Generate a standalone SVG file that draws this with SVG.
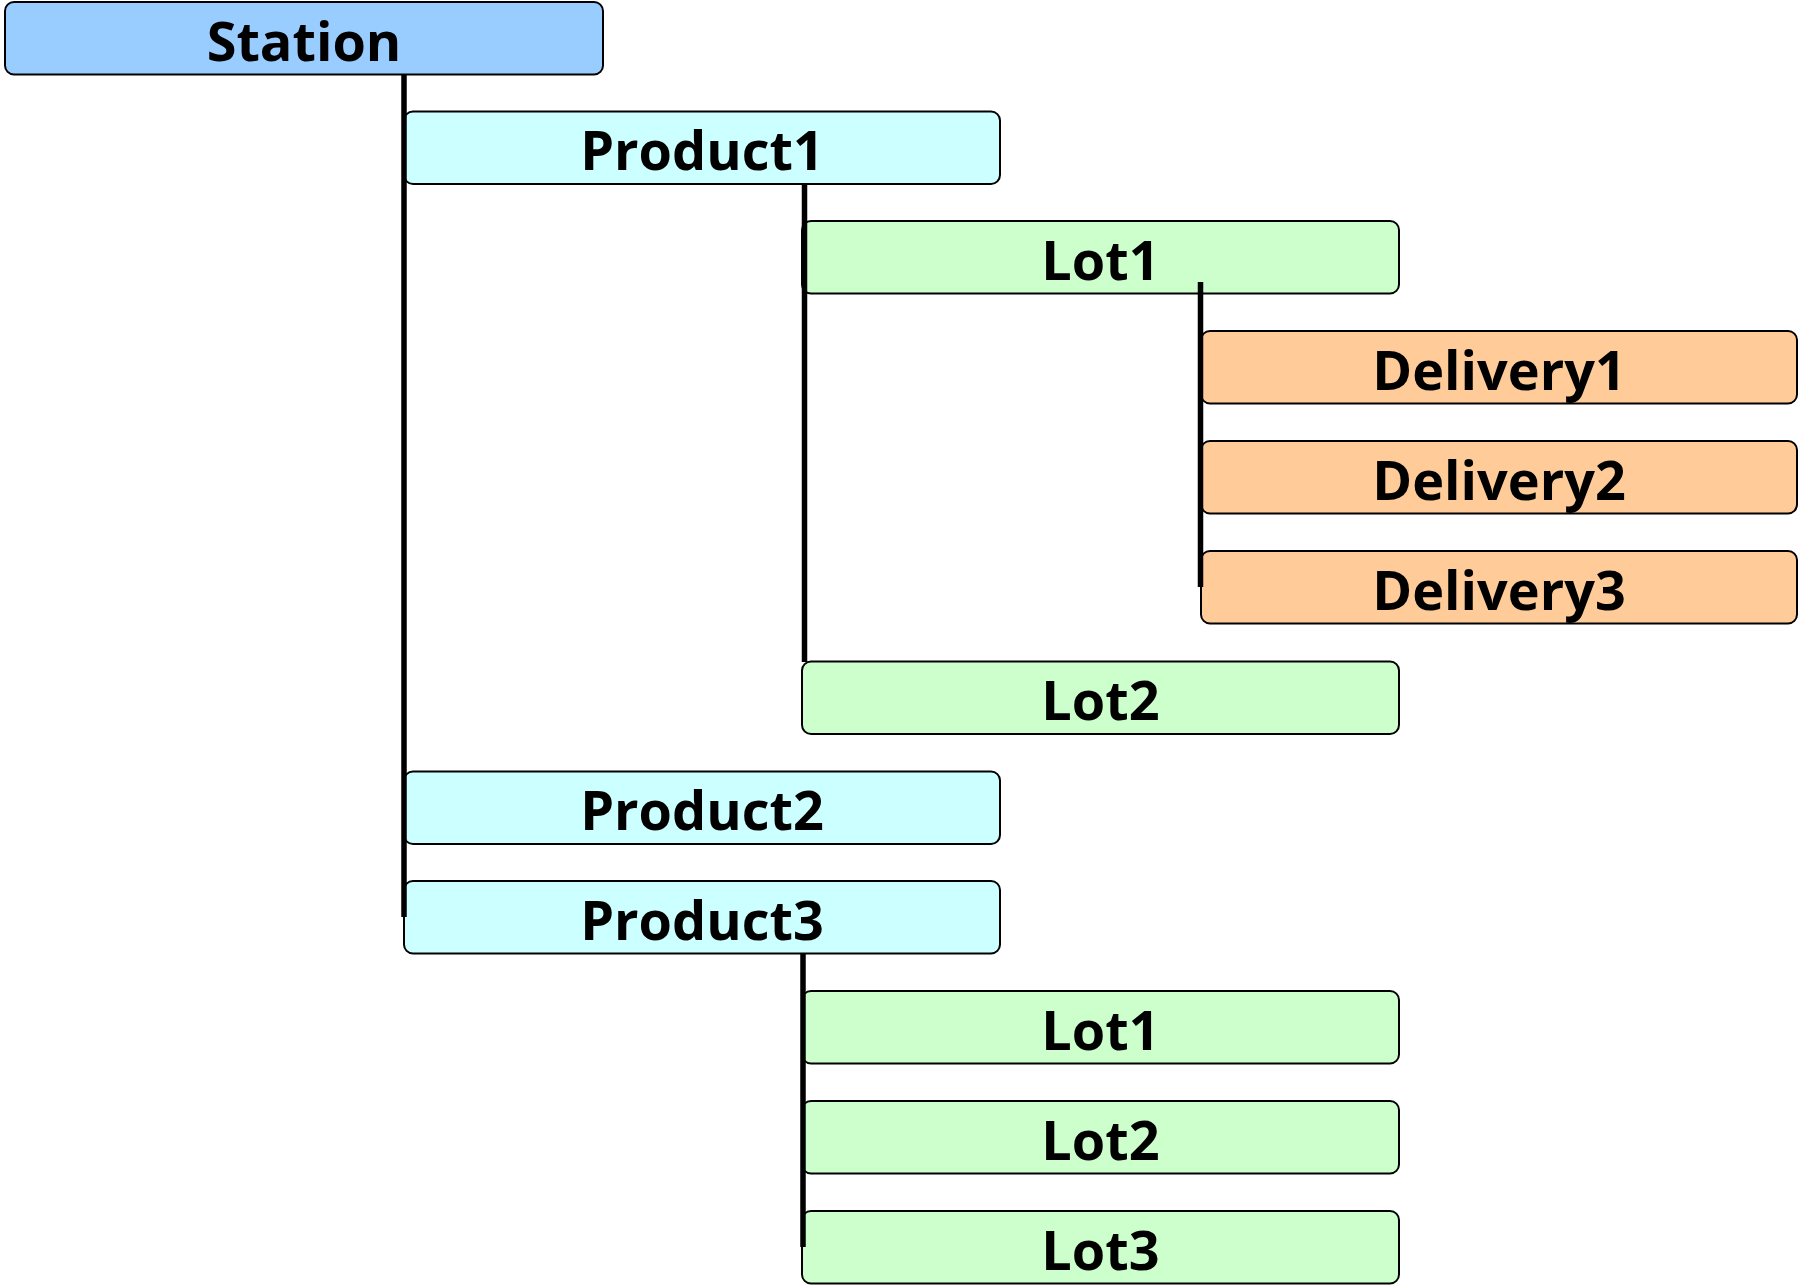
<svg xmlns="http://www.w3.org/2000/svg" width="1799" height="1285" viewBox="0 0 1799 1285">
<style>
.box{stroke:#000;stroke-width:2;}
.st{fill:#99CCFF;}
.pr{fill:#CCFFFF;}
.lt{fill:#CCFFCC;}
.dl{fill:#FFCC99;}
text{font-family:"Open Sans","Noto Sans","DejaVu Sans",sans-serif;font-weight:bold;font-size:54px;fill:#000;text-anchor:middle;}
.con{stroke:#000;stroke-width:5.5;fill:none;}
</style>
<rect width="1799" height="1285" fill="#fff"/>
<g id="station"><rect class="box st" x="5" y="2" width="598" height="72.5" rx="9"/><text x="304" y="60.5">Station</text></g>
<g id="product1"><rect class="box pr" x="404" y="111.5" width="596" height="72.5" rx="9"/><text x="702" y="170">Product1</text></g>
<g id="lot1a"><rect class="box lt" x="802" y="221" width="597" height="72.5" rx="9"/><text x="1100.5" y="279.5">Lot1</text></g>
<g id="delivery1"><rect class="box dl" x="1201" y="331" width="596" height="72.5" rx="9"/><text x="1499" y="389.5">Delivery1</text></g>
<g id="delivery2"><rect class="box dl" x="1201" y="441" width="596" height="72.5" rx="9"/><text x="1499" y="499.5">Delivery2</text></g>
<g id="delivery3"><rect class="box dl" x="1201" y="551" width="596" height="72.5" rx="9"/><text x="1499" y="609.5">Delivery3</text></g>
<g id="lot2a"><rect class="box lt" x="802" y="661.5" width="597" height="72.5" rx="9"/><text x="1100.5" y="720">Lot2</text></g>
<g id="product2"><rect class="box pr" x="404" y="771.5" width="596" height="72.5" rx="9"/><text x="702" y="830">Product2</text></g>
<g id="product3"><rect class="box pr" x="404" y="881" width="596" height="72.5" rx="9"/><text x="702" y="939.5">Product3</text></g>
<g id="lot1b"><rect class="box lt" x="802" y="991" width="597" height="72.5" rx="9"/><text x="1100.5" y="1049.5">Lot1</text></g>
<g id="lot2b"><rect class="box lt" x="802" y="1101" width="597" height="72.5" rx="9"/><text x="1100.5" y="1159.5">Lot2</text></g>
<g id="lot3b"><rect class="box lt" x="802" y="1211" width="597" height="72.5" rx="9"/><text x="1100.5" y="1269.5">Lot3</text></g>
<g id="connectors">
<line class="con" x1="404" y1="74" x2="404" y2="917"/>
<line class="con" x1="804.5" y1="184" x2="804.5" y2="662"/>
<line class="con" x1="1200.5" y1="282" x2="1200.5" y2="587"/>
<line class="con" x1="803" y1="954" x2="803" y2="1247"/>
</g>
</svg>
